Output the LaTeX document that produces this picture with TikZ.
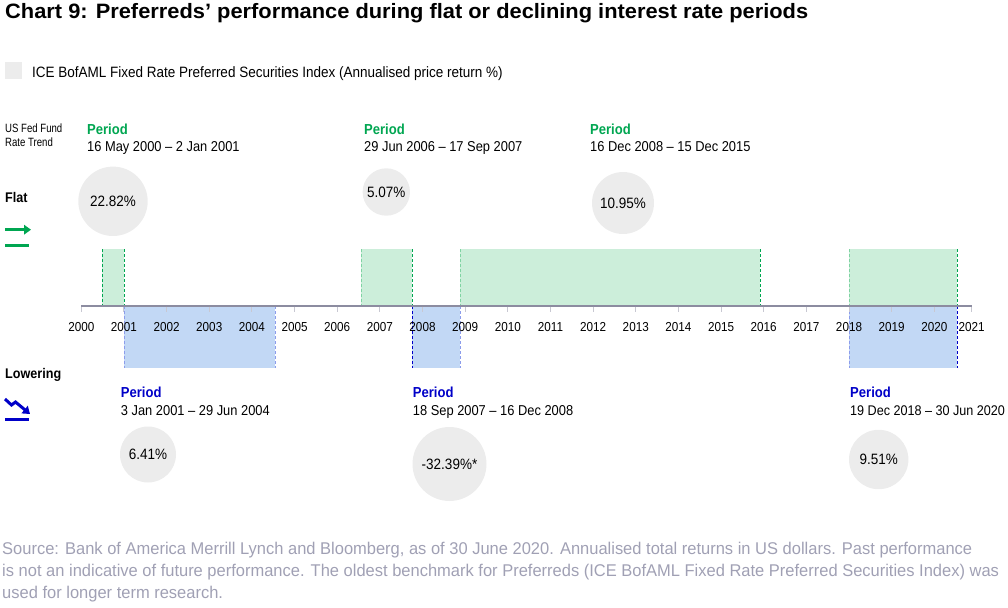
\documentclass[tikz,border=0pt]{standalone}
\usepackage{fontspec}
\setmainfont{Liberation Sans}[FakeStretch=0.9]
\newfontfamily\titlefont{Liberation Sans}[FakeStretch=1.05]
\newfontfamily\narrowfont{Liberation Sans}[FakeStretch=0.8]
\newfontfamily\notefont{Liberation Sans}[FakeStretch=0.97]
\usetikzlibrary{arrows.meta, positioning, calc}

\definecolor{flatgreen}{HTML}{00A651}
\definecolor{flatfill}{HTML}{CCEEDA}
\definecolor{flatpale}{HTML}{7FD3A2}
\definecolor{lowblue}{HTML}{0000C8}
\definecolor{lowfill}{HTML}{C2D8F5}
\definecolor{lowpale}{HTML}{8C9CEB}
\definecolor{bubblegrey}{HTML}{ECECEC}
\definecolor{axisgrey}{HTML}{8C8CA0}
\definecolor{tickgrey}{HTML}{C8C8D2}
\definecolor{notegrey}{HTML}{A0A0B4}

\begin{document}
\begin{tikzpicture}[x=1pt, y=-1pt,
    txt/.style={anchor=base west, inner sep=0pt, font=\fontsize{14.3}{16}\selectfont},
    periodflat/.style={txt, font=\bfseries\fontsize{14.5}{16}\selectfont, text=flatgreen},
    periodlow/.style={txt, font=\bfseries\fontsize{14.5}{16}\selectfont, text=lowblue},
    bubble/.style={circle, fill=bubblegrey, inner sep=0pt, font=\fontsize{15}{17}\selectfont},
    edge/.style={dash pattern=on 3pt off 2pt, line width=0.9pt},
    yearlabel/.style={txt, anchor=base, font=\fontsize{13}{14}\selectfont},
    note/.style={txt, font=\notefont\fontsize{17}{20}\selectfont, text=notegrey}]
    \useasboundingbox (0,0) rectangle (1008,607);

    % title and legend
    \node[txt, font=\titlefont\bfseries\fontsize{20.8}{24}\selectfont] (title) at (5,18.5)
        {Chart 9: Preferreds’ performance during flat or declining interest rate periods};
    \node[fill=bubblegrey, minimum size=17pt, inner sep=0pt, anchor=north west] (key) at (5,62) {};
    \node[txt, font=\fontsize{15}{17}\selectfont] (legend) at (32,77.3)
        {ICE BofAML Fixed Rate Preferred Securities Index (Annualised price return \%)};

    % left column
    \node[txt, font=\narrowfont\fontsize{12}{14.4}\selectfont, align=left, anchor=north west] (trend) at (5,123.5)
        {US Fed Fund\\Rate Trend};
    \node[txt, font=\bfseries\fontsize{14}{16}\selectfont] (flat) at (5,202.7) {Flat};
    \node[txt, font=\bfseries\fontsize{14}{16}\selectfont] (lowering) at (5,378.3) {Lowering};
    \coordinate (fa) at (5,229.7);
    \coordinate (fb) at (31,229.7);
    \draw[flatgreen, line width=3pt, -{Triangle[length=7pt, width=9.5pt]}] (fa) -- (fb);
    \draw[flatgreen, line width=3pt] (5,245) -- (29,245);
    \coordinate (la) at (5,399);
    \coordinate (lb) at (30,414);
    \draw[lowblue, line width=3pt, -{Triangle[length=7pt, width=9.5pt]}]
        (la) -- (11.5,405) -- (15.5,402) -- (lb);
    \draw[lowblue, line width=3pt] (5,419.7) -- (29,419.7);

    % flat periods
    \fill[flatfill] (102,249.3) rectangle (124,306);
    \fill[flatfill] (361,249.3) rectangle (412,306);
    \fill[flatfill] (460,249.3) rectangle (760,306);
    \fill[flatfill] (849,249.3) rectangle (957,306);
    \draw[edge, flatgreen] (102,249.3) -- (102,306);
    \draw[edge, flatgreen] (124,249.3) -- (124,306);
    \draw[edge, flatpale] (361,249.3) -- (361,306);
    \draw[edge, flatgreen] (412,249.3) -- (412,306);
    \draw[edge, flatpale] (460,249.3) -- (460,306);
    \draw[edge, flatgreen] (760,249.3) -- (760,306);
    \draw[edge, flatpale] (849,249.3) -- (849,306);
    \draw[edge, flatgreen] (957,249.3) -- (957,306);

    % lowering periods
    \fill[lowfill] (124,306) rectangle (275,368);
    \fill[lowfill] (412,306) rectangle (460,368);
    \fill[lowfill] (849,306) rectangle (957,368);
    \draw[edge, lowpale] (124,306) -- (124,368);
    \draw[edge, lowpale] (275,306) -- (275,368);
    \draw[edge, lowblue] (412,306) -- (412,368);
    \draw[edge, lowpale] (460,306) -- (460,368);
    \draw[edge, lowpale] (849,306) -- (849,368);
    \draw[edge, lowblue] (957,306) -- (957,368);

    % time axis
    \coordinate (axisL) at (81.3,306);
    \coordinate (axisR) at (971.7,306);
    \draw[axisgrey, line width=1.2pt] (axisL) -- (axisR);
    \foreach \yr [count=\i from 0] in {2000,...,2020} {
        \draw[tickgrey, line width=1pt] (81.3+42.65*\i,306.6) -- ++(0,5.5);
        \node[yearlabel] (yr\yr) at (81.3+42.65*\i,331.7) {\yr};
    }
    \draw[tickgrey, line width=1pt] (971.7,306.6) -- ++(0,5.5);
    \node[yearlabel] (yr2021) at (971.7,331.7) {2021};

    % flat labels
    \node[periodflat] (pf1) at (87,134) {Period};
    \node[txt] (df1) at (87,151.7) {16 May 2000 – 2 Jan 2001};
    \node[bubble, minimum size=69.4pt] (rf1) at (113,201.3) {22.82\%};
    \node[periodflat] (pf2) at (364,134) {Period};
    \node[txt] (df2) at (364,151.7) {29 Jun 2006 – 17 Sep 2007};
    \node[bubble, minimum size=47.4pt] (rf2) at (386.3,192) {5.07\%};
    \node[periodflat] (pf3) at (590,134) {Period};
    \node[txt] (df3) at (590,151.7) {16 Dec 2008 – 15 Dec 2015};
    \node[bubble, minimum size=62pt] (rf3) at (623,203) {10.95\%};

    % lowering labels
    \node[periodlow] (pl1) at (120.7,397.3) {Period};
    \node[txt] (dl1) at (120.7,415) {3 Jan 2001 – 29 Jun 2004};
    \node[bubble, minimum size=56pt] (rl1) at (148,454.5) {6.41\%};
    \node[periodlow] (pl2) at (412.7,397.3) {Period};
    \node[txt] (dl2) at (412.7,415) {18 Sep 2007 – 16 Dec 2008};
    \node[bubble, minimum size=74pt] (rl2) at (449.5,464) {-32.39\%*};
    \node[periodlow] (pl3) at (850,397.3) {Period};
    \node[txt, font=\fontsize{14}{16}\selectfont] (dl3) at (850,415) {19 Dec 2018 – 30 Jun 2020};
    \node[bubble, minimum size=59.4pt] (rl3) at (878.7,459.5) {9.51\%};

    % source note
    \node[note] (note1) at (2,554)
        {Source: Bank of America Merrill Lynch and Bloomberg, as of 30 June 2020. Annualised total returns in US dollars. Past performance};
    \node[note] (note2) at (2,576)
        {is not an indicative of future performance. The oldest benchmark for Preferreds (ICE BofAML Fixed Rate Preferred Securities Index) was};
    \node[note] (note3) at (2,598) {used for longer term research.};
\end{tikzpicture}
\end{document}
